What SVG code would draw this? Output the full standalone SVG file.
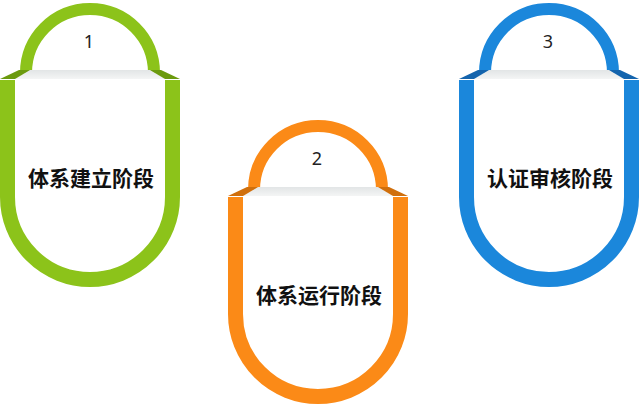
<svg xmlns="http://www.w3.org/2000/svg" xmlns:xlink="http://www.w3.org/1999/xlink" width="640" height="406" viewBox="0 0 640 406">
<style>
.arc{fill:none;stroke:currentColor;stroke-width:12}
.body{fill:#ffffff;stroke:currentColor;stroke-width:15}
.shelf{fill:url(#shelfGrad)}
.side{fill:var(--dark)}
.num{font-family:"Noto Sans","Open Sans",sans-serif;font-size:18px;fill:#222;text-anchor:middle;dominant-baseline:central}
.label{font-family:"Noto Sans CJK SC","Noto Sans",sans-serif;font-size:21px;font-weight:bold;fill:#111;text-anchor:middle;dominant-baseline:central}
.green{color:#8cc31a;--dark:#6b9a0e}
.orange{color:#fb8a17;--dark:#d06f0c}
.blue{color:#1b87db;--dark:#1464ad}
</style>
<defs>
<linearGradient id="shelfGrad" x1="0" y1="0" x2="0" y2="1">
<stop offset="0" stop-color="#e2e5e6"/>
<stop offset="1" stop-color="#f4f5f5"/>
</linearGradient>
<g id="lock">
<path class="arc" d="M26,73 A64,64 0 0 1 154,73"/>
<path class="body" d="M7.5,80 L7.5,197 A82.5,82.5 0 0 0 172.5,197 L172.5,80"/>
<polygon class="shelf" points="29,70 151,70 165,79 15,79"/>
<polygon class="side" points="19,70 30,70 15,79 0,79"/>
<polygon class="side" points="150,70 161,70 180,79 165,79"/>
</g>
</defs>
<g id="node1" class="green">
<use xlink:href="#lock" href="#lock"/>
<text class="num" x="89" y="41">1</text>
<text class="label" x="91" y="177">体系建立阶段</text>
</g>
<g id="node2" class="orange" transform="translate(228,117)">
<use xlink:href="#lock" href="#lock"/>
<text class="num" x="89" y="41">2</text>
<text class="label" x="91" y="177">体系运行阶段</text>
</g>
<g id="node3" class="blue" transform="translate(459,0)">
<use xlink:href="#lock" href="#lock"/>
<text class="num" x="89" y="41">3</text>
<text class="label" x="91" y="177">认证审核阶段</text>
</g>
</svg>
